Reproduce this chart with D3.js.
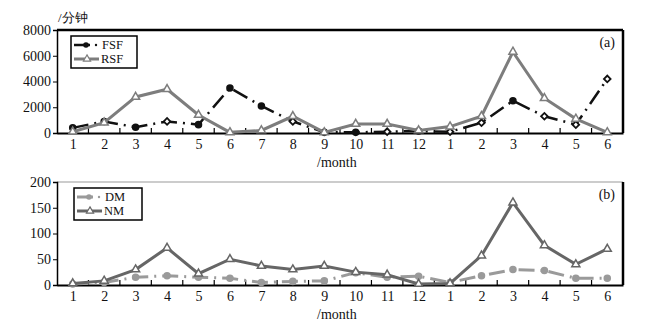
<!DOCTYPE html>
<html>
<head>
<meta charset="utf-8">
<script src="https://cdn.jsdelivr.net/npm/d3@7"></script>
<style>
  body { margin: 0; background: #fff; }
  svg text { font-family: "Liberation Serif", "DejaVu Serif", serif; fill: #111; }
</style>
</head>
<body>
<svg width="654" height="330"></svg>
<script>
// month labels, Jan of year 1 through Jun of year 2
const months = [1, 2, 3, 4, 5, 6, 7, 8, 9, 10, 11, 12, 1, 2, 3, 4, 5, 6];

// panel (a)
const fsf = [400, 900, 450, 900, 650, 3500, 2100, 900, 50, 50, 100, 150, 100, 800, 2500, 1300, 650, 4200];
const rsf = [100, 800, 2800, 3400, 1400, 50, 200, 1300, 50, 700, 700, 200, 500, 1300, 6300, 2700, 1100, 50];
const fsfHollow = [0, 0, 0, 1, 0, 0, 0, 1, 0, 0, 1, 0, 1, 1, 0, 1, 1, 1];
const ticksA = [0, 2000, 4000, 6000, 8000];

// panel (b)
const dm = [2, 5, 15, 18, 15, 13, 5, 7, 8, 24, 15, 17, 5, 18, 30, 28, 13, 13];
const nm = [3, 8, 30, 72, 22, 50, 37, 30, 37, 25, 20, 2, 3, 57, 160, 77, 40, 70];
const ticksB = [0, 50, 100, 150, 200];

const svg = d3.select("svg");
const x = d3.scaleLinear().domain([0.5, months.length + 0.5]).range([57, 623]);
const idx = months.map((m, i) => i + 1);

function panel(opts) {
  const y = d3.scaleLinear().domain([0, opts.max]).range([opts.bottom, opts.top]);
  const g = svg.append("g");

  // frame
  g.append("line").attr("x1", x.range()[0]).attr("x2", x.range()[1])
    .attr("y1", opts.top).attr("y2", opts.top)
    .attr("stroke", opts.topColor).attr("stroke-width", opts.topWidth);
  g.append("line").attr("x1", x.range()[1]).attr("x2", x.range()[1])
    .attr("y1", opts.top).attr("y2", opts.bottom)
    .attr("stroke", "#000").attr("stroke-width", 2.5);

  // y axis
  const ya = g.append("g").attr("transform", `translate(${x.range()[0]},0)`)
    .call(d3.axisLeft(y).tickValues(opts.ticks).tickSize(4).tickPadding(2).tickFormat(d3.format("d")));
  ya.select(".domain").attr("stroke-width", 1.5);
  ya.selectAll("text").style("font-size", "14px");

  // x axis, inward ticks between months
  const xa = g.append("g").attr("transform", `translate(0,${opts.bottom})`)
    .call(d3.axisBottom(x).tickValues(idx).tickSize(0).tickPadding(6)
      .tickFormat((d, i) => months[i]));
  xa.select(".domain").attr("stroke-width", 2);
  xa.selectAll("text").style("font-size", "14px");
  g.selectAll(".xin").data(idx.slice(0, -1)).enter().append("line")
    .attr("x1", d => x(d + 0.5)).attr("x2", d => x(d + 0.5))
    .attr("y1", opts.bottom).attr("y2", opts.bottom - 5)
    .attr("stroke", "#000").attr("stroke-width", 1.2);

  const line = d3.line().x((d, i) => x(i + 1)).y(d => y(d));

  opts.series.forEach(s => {
    g.append("path").datum(s.values)
      .attr("fill", "none").attr("stroke", s.color).attr("stroke-width", s.width)
      .attr("stroke-dasharray", s.dash || null)
      .attr("d", line);
    const pts = g.selectAll(null).data(s.values).enter();
    if (s.marker === "tri") {
      pts.append("path")
        .attr("transform", (d, i) => `translate(${x(i + 1)},${y(d)})`)
        .attr("d", d3.symbol(d3.symbolTriangle, 28))
        .attr("fill", "#fff").attr("stroke", s.color).attr("stroke-width", 1.5);
    } else {
      pts.append("path")
        .attr("transform", (d, i) => `translate(${x(i + 1)},${y(d)})` + (s.hollow && s.hollow[i] ? " rotate(45)" : ""))
        .attr("d", (d, i) => s.hollow && s.hollow[i] ? d3.symbol(d3.symbolSquare, 22)() : d3.symbol(d3.symbolCircle, 26)())
        .attr("fill", (d, i) => s.hollow && s.hollow[i] ? "#fff" : s.color)
        .attr("stroke", s.color).attr("stroke-width", 1.8);
    }
  });

  // legend
  const lg = g.append("g").attr("transform", `translate(${opts.legend[0]},${opts.legend[1]})`);
  lg.append("rect").attr("width", opts.legendW).attr("height", 32)
    .attr("fill", "#fff").attr("stroke", "#000").attr("stroke-width", 1.5);
  opts.series.forEach((s, k) => {
    const ly = 9 + k * 14;
    lg.append("line").attr("x1", 3).attr("x2", s.dash ? 19 : 28).attr("y1", ly).attr("y2", ly)
      .attr("stroke", s.color).attr("stroke-width", s.width);
    if (s.dash) {
      lg.append("circle").attr("cx", 25).attr("cy", ly).attr("r", 1.2).attr("fill", s.color);
      lg.append("circle").attr("cx", 15).attr("cy", ly).attr("r", 2.8).attr("fill", s.color);
    } else {
      lg.append("path").attr("transform", `translate(16,${ly})`)
        .attr("d", d3.symbol(d3.symbolTriangle, 22))
        .attr("fill", "#fff").attr("stroke", s.color).attr("stroke-width", 1.2);
    }
    lg.append("text").attr("x", s.dash ? 31 : 30).attr("y", ly + 4)
      .style("font-size", "12.5px").text(s.name);
  });

  g.append("text").attr("x", 615).attr("y", opts.top + 17)
    .attr("text-anchor", "end").style("font-size", "14px").text(opts.tag);
  g.append("text").attr("x", 317).attr("y", opts.bottom + 34)
    .style("font-size", "14px").text("/month");
}

panel({
  top: 30, bottom: 133, max: 8000, ticks: ticksA, tag: "(a)",
  topColor: "#000", topWidth: 2.5, legend: [71, 36], legendW: 66,
  series: [
    { name: "FSF", values: fsf, color: "#111", width: 2.5, dash: "16,6,2,6", hollow: fsfHollow },
    { name: "RSF", values: rsf, color: "#7d7d7d", width: 3, marker: "tri" }
  ]
});

panel({
  top: 182, bottom: 285, max: 200, ticks: ticksB, tag: "(b)",
  topColor: "#999", topWidth: 1, legend: [74, 188], legendW: 68,
  series: [
    { name: "DM", values: dm, color: "#9a9a9a", width: 3, dash: "16,6,2,6" },
    { name: "NM", values: nm, color: "#666", width: 3, marker: "tri" }
  ]
});

svg.append("text").attr("x", 58).attr("y", 22).style("font-size", "13px").text("/分钟");
</script>
</body>
</html>
